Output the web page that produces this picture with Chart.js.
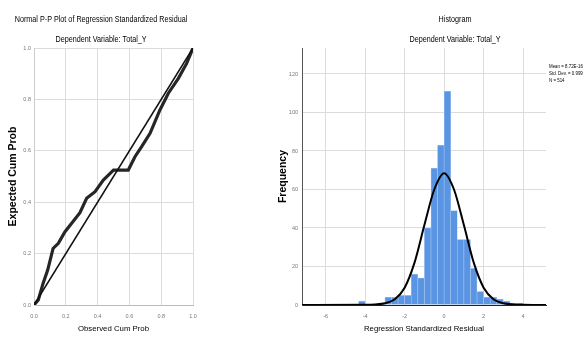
<!DOCTYPE html>
<html>
<head>
<meta charset="utf-8">
<script src="https://cdn.jsdelivr.net/npm/chart.js@4/dist/chart.umd.min.js"></script>
<style>
  html, body { margin: 0; padding: 0; background: #fff; }
  body { width: 586px; height: 338px; position: relative; overflow: hidden; }
  canvas { position: absolute; top: 0; }
  #pp { left: 0; }
  #hist { left: 260px; }
</style>
</head>
<body>
<canvas id="pp" width="210" height="338"></canvas>
<canvas id="hist" width="326" height="338"></canvas>
<script>
// P-P plot: observed vs expected cumulative probability
const ppObserved = [0, 0.027, 0.057, 0.086, 0.12, 0.153, 0.195, 0.237, 0.289, 0.331, 0.384, 0.436, 0.5, 0.593, 0.635, 0.677, 0.73, 0.792, 0.845, 0.908, 0.96, 1.0];
const ppExpected = [0, 0.02, 0.084, 0.136, 0.22, 0.24, 0.285, 0.318, 0.359, 0.415, 0.441, 0.486, 0.525, 0.525, 0.577, 0.616, 0.668, 0.759, 0.824, 0.882, 0.94, 1.0];
const ppDiagonal = [0, 1];
const ppTicks = [0, 0.2, 0.4, 0.6, 0.8, 1.0];

// Histogram of standardized residuals (bin centres, width 1/3)
const binCenters = [-4.167, -3.833, -3.5, -3.167, -2.833, -2.5, -2.167, -1.833, -1.5, -1.167, -0.833, -0.5, -0.167,
  0.167, 0.5, 0.833, 1.167, 1.5, 1.833, 2.167, 2.5, 2.833, 3.167, 3.5, 3.833];
const binCounts = [2, 0, 0, 1, 4, 4, 5, 5, 16, 14, 40, 71, 83, 111, 49, 34, 34, 19, 7, 4, 4, 3, 2, 1, 1];
const normalX = [-7.2, -4, -3.5, -3, -2.5, -2, -1.5, -1, -0.5, 0, 0.5, 1, 1.5, 2, 2.5, 3, 3.5, 4, 5.16];
const normalY = [0, 0.1, 0.3, 0.9, 3, 9, 22, 41.5, 60, 68.5, 60, 41.5, 22, 9, 3, 0.9, 0.3, 0.1, 0];
const histXTicks = [-6, -4, -2, 0, 2, 4];
const histYTicks = [0, 20, 40, 60, 80, 100, 120];
const statLines = ['Mean = 8.72E-16', 'Std. Dev. = 0.999', 'N = 514'];

const SANS = '"Liberation Sans", Arial, sans-serif';
const GRID = '#dcdcdc';

// SPSS uses a narrow face for headings; squeeze Liberation Sans to imitate it
const headerPlugin = {
  id: 'header',
  afterDraw(chart, args, opts) {
    const ctx = chart.ctx;
    const put = (t, x, y, sx) => {
      ctx.save();
      ctx.translate(x, y);
      ctx.scale(sx, 1);
      ctx.fillText(t, 0, 0);
      ctx.restore();
    };
    ctx.save();
    ctx.fillStyle = '#000';
    ctx.textAlign = 'center';
    ctx.textBaseline = 'middle';
    ctx.font = '9px ' + SANS;
    put(opts.title, opts.cx, 20, 0.8);
    put(opts.subtitle, opts.cx, 40, 0.8);
    if (opts.notes) {
      ctx.textAlign = 'left';
      ctx.font = '5.5px ' + SANS;
      opts.notes.forEach((t, i) => put(t, opts.notesX, opts.notesY + i * 7, 0.8));
    }
    ctx.restore();
  }
};

const fixTicks = vals => scale => { scale.ticks = vals.map(v => ({ value: v })); };

new Chart(document.getElementById('pp'), {
  type: 'scatter',
  data: {
    datasets: [
      {
        data: ppDiagonal.map(v => ({ x: v, y: v })),
        showLine: true, borderColor: '#111', borderWidth: 1.6, pointRadius: 0
      },
      {
        data: ppObserved.map((x, i) => ({ x, y: ppExpected[i] })),
        showLine: true, borderColor: '#262626', borderWidth: 3.2, pointRadius: 0
      }
    ]
  },
  options: {
    responsive: false, animation: false,
    layout: { padding: { top: 48, right: 17, left: 0, bottom: 0 } },
    plugins: {
      legend: { display: false }, tooltip: { enabled: false },
      header: { title: 'Normal P-P Plot of Regression Standardized Residual', subtitle: 'Dependent Variable: Total_Y', cx: 101 }
    },
    scales: {
      x: {
        type: 'linear', min: 0, max: 1,
        afterBuildTicks: fixTicks(ppTicks),
        afterFit: s => { s.height = 33; },
        grid: { color: GRID, drawTicks: false },
        border: { color: '#bbb' },
        ticks: { padding: 8, color: '#777', font: { size: 5.5, family: SANS }, callback: v => v.toFixed(1) },
        title: { display: true, text: 'Observed Cum Prob', color: '#000', padding: { top: 0, bottom: 4 }, font: { size: 7.8, family: SANS } }
      },
      y: {
        type: 'linear', min: 0, max: 1,
        afterBuildTicks: fixTicks(ppTicks),
        afterFit: s => { s.width = 34; },
        grid: { color: GRID, drawTicks: false },
        border: { color: '#ccc' },
        ticks: { padding: 3, color: '#777', font: { size: 5.5, family: SANS }, callback: v => v.toFixed(1) },
        title: { display: true, text: 'Expected Cum Prob', color: '#000', padding: { top: 7, bottom: 0 }, font: { size: 10.5, weight: 'bold', family: SANS } }
      }
    }
  },
  plugins: [headerPlugin]
});

new Chart(document.getElementById('hist'), {
  type: 'bar',
  data: {
    datasets: [
      {
        type: 'line',
        data: normalX.map((x, i) => ({ x, y: normalY[i] })),
        borderColor: '#000', borderWidth: 2, pointRadius: 0,
        cubicInterpolationMode: 'monotone', order: 0
      },
      {
        data: binCenters.map((x, i) => ({ x, y: binCounts[i] })),
        backgroundColor: '#5a95e4', borderColor: '#a8c6f0', borderWidth: 0.6,
        barPercentage: 1, categoryPercentage: 1, order: 1
      }
    ]
  },
  options: {
    responsive: false, animation: false,
    layout: { padding: { top: 48, right: 40, left: 0, bottom: 0 } },
    plugins: {
      legend: { display: false }, tooltip: { enabled: false },
      header: { title: 'Histogram', subtitle: 'Dependent Variable: Total_Y', cx: 195, notes: statLines, notesX: 289, notesY: 66 }
    },
    scales: {
      x: {
        type: 'linear', min: -7.2, max: 5.16, offset: false,
        afterBuildTicks: fixTicks(histXTicks),
        afterFit: s => { s.height = 33; },
        grid: { color: GRID, drawTicks: false, offset: false },
        border: { color: '#222' },
        ticks: { padding: 8, color: '#777', font: { size: 5.5, family: SANS } },
        title: { display: true, text: 'Regression Standardized Residual', color: '#000', padding: { top: 0, bottom: 4 }, font: { size: 7.8, family: SANS } }
      },
      y: {
        type: 'linear', min: 0, max: 133.5,
        afterBuildTicks: fixTicks(histYTicks),
        afterFit: s => { s.width = 42; },
        grid: { color: GRID, drawTicks: false },
        border: { color: '#555' },
        ticks: { padding: 4, color: '#777', font: { size: 5.5, family: SANS } },
        title: { display: true, text: 'Frequency', color: '#000', padding: { top: 17, bottom: 0 }, font: { size: 10.5, weight: 'bold', family: SANS } }
      }
    }
  },
  plugins: [headerPlugin]
});
</script>
</body>
</html>
